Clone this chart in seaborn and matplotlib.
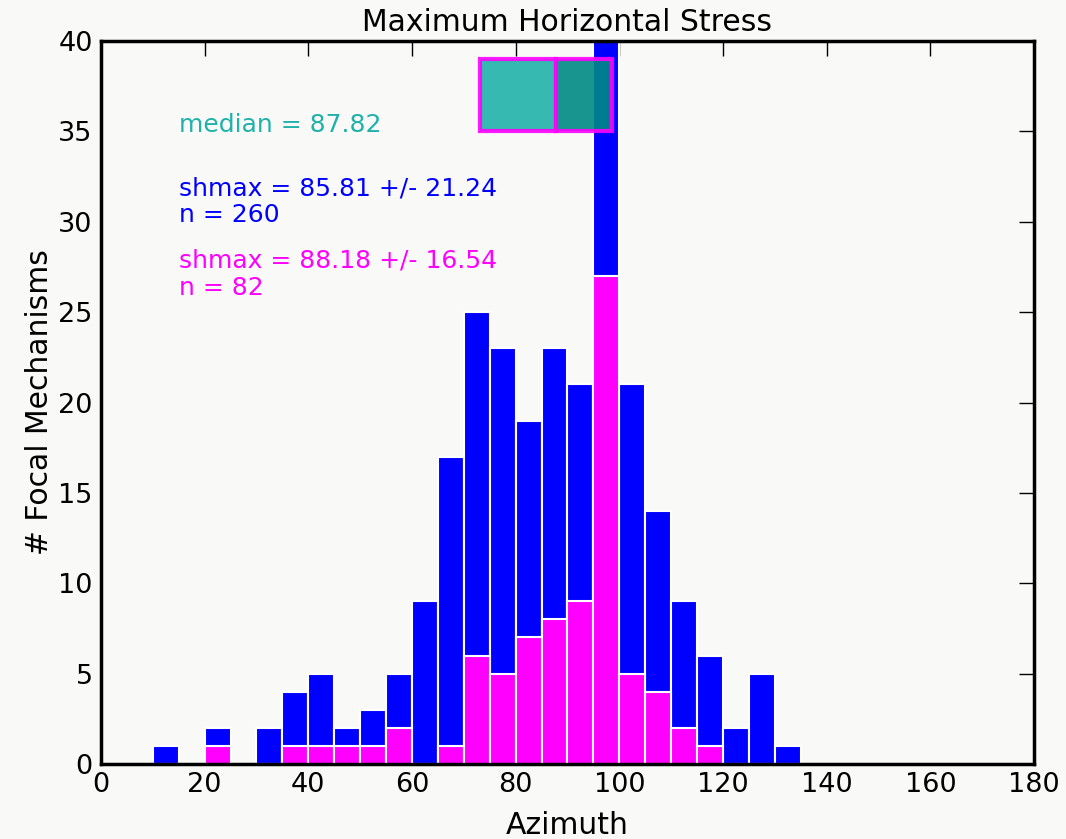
import numpy as np
import pandas as pd
import seaborn as sns
import matplotlib
matplotlib.use("Agg")
import matplotlib.pyplot as plt

# ---- data (histogram counts per 5-degree azimuth bin) ----
bin_edges = list(range(0, 185, 5))
bin_centers = [e + 2.5 for e in bin_edges[:-1]]
all_counts = [0, 0, 1, 0, 2, 0, 2, 4, 5, 2, 3, 5, 9, 17, 25, 23, 19, 23, 21, 41,
              21, 14, 9, 6, 2, 5, 1, 0, 0, 0, 0, 0, 0, 0, 0, 0]
sub_counts = [0, 0, 0, 0, 1, 0, 0, 1, 1, 1, 1, 2, 0, 1, 6, 5, 7, 8, 9, 27,
              5, 4, 2, 1, 0, 0, 0, 0, 0, 0, 0, 0, 0, 0, 0, 0]

# box summary (interquartile range + median)
box_q1 = 73.1
box_median = 87.82
box_q3 = 98.6
box_bottom = 35.0
box_top = 39.0

label_median = "median = 87.82"
label_all = "shmax = 85.81 +/- 21.24\nn = 260"
label_sub = "shmax = 88.18 +/- 16.54\nn = 82"
x_ticks = list(range(0, 181, 20))
y_ticks = list(range(0, 41, 5))

bg = "#f9f9f7"
sns.set_style("white")
plt.rcParams['font.family'] = ['DejaVu Sans']
plt.rcParams['text.color'] = 'black'
plt.rcParams['axes.labelcolor'] = 'black'

fig = plt.figure(figsize=(10.66, 8.39), dpi=100, facecolor=bg)
ax = fig.add_axes([0.0947, 0.0894, 0.8753, 0.8616])
ax.set_facecolor(bg)

df_all = pd.DataFrame({"az": bin_centers, "w": all_counts})
df_sub = pd.DataFrame({"az": bin_centers, "w": sub_counts})

sns.histplot(data=df_all, x="az", weights="w", bins=bin_edges, ax=ax,
             color="#0000ff", alpha=1.0, edgecolor="white", linewidth=1.5)
sns.histplot(data=df_sub, x="az", weights="w", bins=bin_edges, ax=ax,
             color="#ff00ff", alpha=1.0, edgecolor="white", linewidth=1.5)

# IQR box split at median
h = box_top - box_bottom
ax.barh([box_bottom], [box_median - box_q1], left=[box_q1], height=h, align="edge",
        color="#20b2aa", alpha=0.9, edgecolor="#ff00ff", linewidth=3, zorder=5)
ax.barh([box_bottom], [box_q3 - box_median], left=[box_median], height=h, align="edge",
        color="#008a84", alpha=0.9, edgecolor="#ff00ff", linewidth=3, zorder=5)

ax.text(15, 34.68, label_median, color="#20b2aa", fontsize=18, va="bottom", ha="left")
ax.text(15, 29.7, label_all, color="#0000ff", fontsize=18, va="bottom", ha="left",
        linespacing=1.15)
ax.text(15, 25.7, label_sub, color="#ff00ff", fontsize=18, va="bottom", ha="left",
        linespacing=1.15)

ax.set_xlim(0, 180)
ax.set_ylim(0, 40)
ax.set_xticks(x_ticks)
ax.set_yticks(y_ticks)
ax.tick_params(direction="in", length=11, width=1, top=True, right=True,
               labelsize=19.5, pad=6, colors="black")
for s in ax.spines.values():
    s.set_linewidth(2.5)
    s.set_color("black")
    s.set_zorder(10)

ax.set_title("Maximum Horizontal Stress", fontsize=21.5, pad=7, color="black")
ax.set_xlabel("Azimuth", fontsize=21.5, labelpad=9)
ax.set_ylabel("# Focal Mechanisms", fontsize=21.5, labelpad=3)

fig.savefig("out.png", dpi=100, facecolor=bg)
